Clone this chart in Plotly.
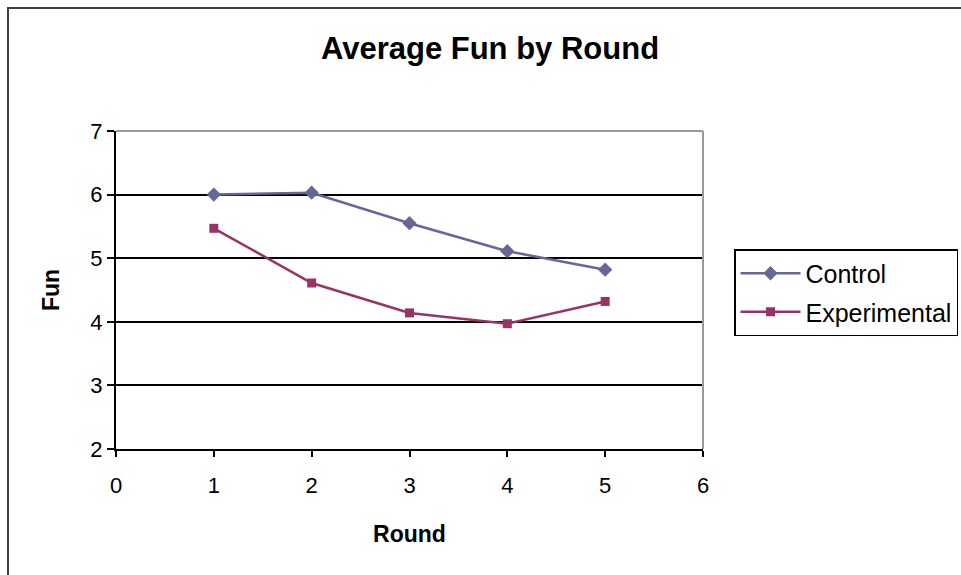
import plotly.graph_objects as go

# Average fun score per round for each group
rounds = [1, 2, 3, 4, 5]
control = [6.00, 6.03, 5.55, 5.11, 4.82]
experimental = [5.47, 4.61, 4.14, 3.97, 4.32]

x_ticks = [0, 1, 2, 3, 4, 5, 6]
y_ticks = [2, 3, 4, 5, 6, 7]

W, H = 961, 575
L, R, T, B = 116, 258, 131, 126
pw, ph = W - L - R, H - T - B


def px_to_paper(px, py):
    return (px - L) / pw, (H - B - py) / ph


font = "Arial, 'Liberation Sans', sans-serif"

fig = go.Figure()
fig.add_trace(go.Scatter(
    x=rounds, y=control, name="Control", mode="lines+markers",
    legendgroup="c",
    line=dict(color="#666699", width=2.5),
    marker=dict(symbol="diamond", size=11, color="#666699"),
))
fig.add_trace(go.Scatter(
    x=rounds, y=experimental, name="Experimental", mode="lines+markers",
    legendgroup="e",
    line=dict(color="#993366", width=2.5),
    marker=dict(symbol="square", size=9, color="#993366"),
))

# outer chart frame (runs off the right and bottom edges)
x0, y0 = px_to_paper(8, 8)
x1, y1 = px_to_paper(990, 600)
fig.add_shape(type="rect", xref="paper", yref="paper",
              x0=x0, y0=y1, x1=x1, y1=y0,
              line=dict(color="#404040", width=2), fillcolor="rgba(0,0,0,0)")

# plot area frame: grey top and right edges
fig.add_shape(type="line", xref="paper", yref="paper", x0=0, x1=1, y0=1, y1=1,
              line=dict(color="#999999", width=2))
fig.add_shape(type="line", xref="paper", yref="paper", x0=1, x1=1, y0=0, y1=1,
              line=dict(color="#999999", width=2))

fig.update_layout(
    width=W, height=H,
    margin=dict(l=L, r=R, t=T, b=B, autoexpand=False),
    paper_bgcolor="white", plot_bgcolor="white",
    font=dict(family=font, color="black", size=20),
    title=dict(text="<b>Average Fun by Round</b>", x=490 / W, xanchor="center",
               xref="container", y=1 - 48 / H, yanchor="middle",
               font=dict(size=31, family=font, color="black")),
    showlegend=True,
    legend=dict(x=px_to_paper(734, 0)[0], xanchor="left",
                y=px_to_paper(0, 249)[1], yanchor="top",
                bordercolor="black", borderwidth=1.5, bgcolor="white",
                font=dict(size=25, family=font), tracegroupgap=3,
                itemwidth=60),
    xaxis=dict(range=[0, 6], tickvals=x_ticks, showgrid=False, zeroline=False,
               showline=True, linecolor="black", linewidth=2,
               ticks="outside", ticklen=6, tickcolor="black", tickwidth=1.5,
               tickfont=dict(size=22), ticklabelstandoff=10, fixedrange=True,
               title=dict(text="<b>Round</b>", font=dict(size=23), standoff=28)),
    yaxis=dict(range=[2, 7], tickvals=y_ticks, showgrid=True, gridcolor="black",
               gridwidth=1.5, zeroline=False,
               showline=True, linecolor="black", linewidth=2,
               ticks="outside", ticklen=7, tickcolor="black", tickwidth=1.5,
               tickfont=dict(size=22), fixedrange=True,
               title=dict(text="<b>Fun</b>", font=dict(size=23), standoff=24)),
)

fig.write_html("out.html")
